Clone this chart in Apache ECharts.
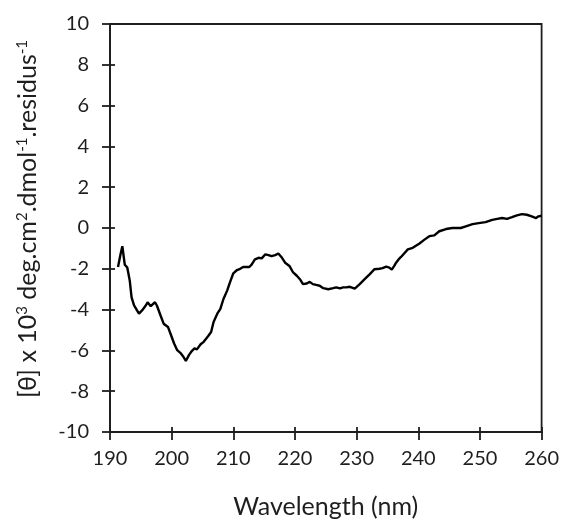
<!DOCTYPE html>
<html>
<head>
<meta charset="utf-8">
<script src="https://cdn.jsdelivr.net/npm/echarts@6/dist/echarts.min.js"></script>
<style>html,body{margin:0;padding:0;background:#fff}#c{width:562px;height:524px}</style>
</head>
<body>
<div id="c"></div>
<script>
var wavelength = [191.3,191.7,192.0,192.4,192.8,193.2,193.5,193.9,194.2,194.7,195.2,195.8,196.1,196.6,196.8,197.3,197.6,198.2,198.7,199.4,199.8,200.4,200.9,201.5,201.9,202.3,202.8,203.3,203.7,204.1,204.7,205.2,205.9,206.4,206.8,207.4,207.9,208.4,209.0,209.5,210.0,210.6,211.1,211.6,212.2,212.6,213.0,213.5,214.1,214.6,215.2,215.7,216.2,216.8,217.3,217.9,218.4,219.1,219.7,220.3,220.8,221.3,221.9,222.4,222.9,223.6,224.0,224.6,225.4,226.2,226.7,227.3,227.8,228.3,228.9,229.7,230.5,231.3,232.1,232.9,233.7,234.2,234.8,235.3,235.7,236.1,236.4,236.8,237.2,238.3,239.1,240.2,241.0,241.8,242.6,243.4,244.5,245.5,246.9,247.7,248.8,249.8,250.9,252.0,252.8,253.6,254.4,255.2,256.0,256.8,257.6,258.4,259.1,259.5,260.0];
var ellipticity = [-1.91,-1.3,-0.89,-1.8,-1.94,-2.57,-3.4,-3.79,-3.88,-4.2,-4.04,-3.8,-3.64,-3.83,-3.85,-3.64,-3.8,-4.29,-4.69,-4.85,-5.17,-5.66,-5.99,-6.15,-6.31,-6.52,-6.23,-6.02,-5.9,-5.95,-5.7,-5.58,-5.31,-5.1,-4.61,-4.2,-3.96,-3.48,-3.07,-2.63,-2.22,-2.06,-2.0,-1.91,-1.91,-1.91,-1.78,-1.54,-1.46,-1.49,-1.29,-1.33,-1.38,-1.33,-1.25,-1.46,-1.70,-1.86,-2.18,-2.34,-2.51,-2.75,-2.72,-2.64,-2.75,-2.8,-2.83,-2.95,-3.0,-2.95,-2.91,-2.96,-2.91,-2.91,-2.88,-2.97,-2.75,-2.51,-2.27,-2.02,-2.0,-1.97,-1.89,-1.94,-2.04,-1.86,-1.70,-1.54,-1.42,-1.05,-0.97,-0.76,-0.57,-0.40,-0.36,-0.16,-0.05,0.0,0.0,0.08,0.19,0.24,0.29,0.40,0.45,0.49,0.45,0.53,0.62,0.68,0.65,0.57,0.49,0.57,0.60];
var xTicks = {min: 190, max: 260, step: 10};
var yTicks = {min: -10, max: 10, step: 2};
var xTitle = 'Wavelength (nm)';

var pts = wavelength.map(function (w, i) { return [w, ellipticity[i]]; });
var font = 'Lato, "Open Sans", sans-serif';
var ink = '#1e1e1e';
var lineW = 1.8;
function tickAxis(inside) {
  return {
    type: 'value', min: null, max: null,
    axisLine: {show: !inside, onZero: false, lineStyle: {color: ink, width: lineW}},
    axisTick: {show: true, inside: inside, length: inside ? 5 : 8, lineStyle: {color: ink, width: lineW}},
    splitLine: {show: false}
  };
}
var xMain = Object.assign(tickAxis(false), {
  min: xTicks.min, max: xTicks.max, interval: xTicks.step,
  name: xTitle, nameLocation: 'middle', nameGap: 62,
  nameTextStyle: {fontFamily: font, fontSize: 25, color: ink},
  axisLabel: {fontFamily: font, fontSize: 20, color: ink, margin: 17}
});
var xIn = Object.assign(tickAxis(true), {
  min: xTicks.min, max: xTicks.max, interval: xTicks.step, position: 'bottom',
  axisLabel: {show: false}
});
var yMain = Object.assign(tickAxis(false), {
  min: yTicks.min, max: yTicks.max, interval: yTicks.step,
  name: '{n|[θ] x 10}{s|3}{n| deg.cm}{s|2}{n|.dmol}{s|-1}{n|.residus}{s|-1}',
  nameLocation: 'middle', nameGap: 70, nameRotate: 90,
  nameTextStyle: {
    fontFamily: font, fontSize: 25, color: ink, padding: [0, 0, 0, 18],
    rich: {
      n: {fontFamily: font, fontSize: 25, color: ink},
      s: {fontFamily: font, fontSize: 15, color: ink, verticalAlign: 'top', padding: [0, 0, 10, 0]}
    }
  },
  axisLabel: {fontFamily: font, fontSize: 20, color: ink, margin: 21}
});
var yIn = Object.assign(tickAxis(true), {
  min: yTicks.min, max: yTicks.max, interval: yTicks.step, position: 'left',
  axisLabel: {show: false}
});

var chart = echarts.init(document.getElementById('c'));
chart.setOption({
  animation: false,
  backgroundColor: '#fff',
  grid: {left: 110, right: 19, top: 24, bottom: 88, show: true, borderColor: ink, borderWidth: lineW, backgroundColor: 'transparent'},
  xAxis: [xMain, xIn],
  yAxis: [yMain, yIn],
  series: [{
    type: 'line', data: pts, showSymbol: false, smooth: false,
    xAxisIndex: 0, yAxisIndex: 0,
    lineStyle: {color: '#000', width: 2.4}
  }]
});
</script>
</body>
</html>
